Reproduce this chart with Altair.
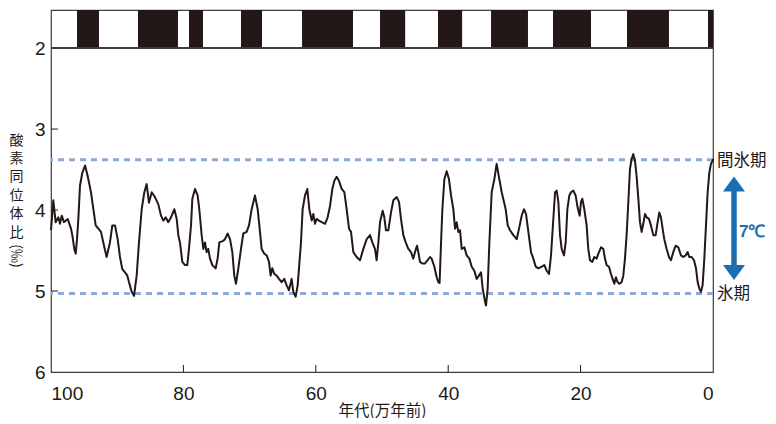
import altair as alt
import pandas as pd

# ---- data ----
ages = [100.0, 99.65, 99.3, 98.9, 98.64, 98.38, 98.04, 97.48, 96.98, 96.78, 96.48, 96.27, 96.07, 95.87,
        95.62, 95.27, 94.86, 94.46, 93.96, 93.6, 93.25, 92.85, 92.45, 92.1, 91.6, 91.09, 90.74, 90.33,
        89.93, 89.58, 89.23, 88.82, 88.47, 88.22, 87.81, 87.46, 87.06, 86.71, 86.3, 85.9, 85.55, 85.2,
        84.79, 84.29, 83.79, 83.38, 83.04, 82.67, 82.28, 81.87, 81.37, 81.01, 80.77,
        80.52, 80.16, 79.76, 79.41, 79.16, 78.85, 78.65, 78.25, 77.85, 77.6, 77.24, 76.99, 76.74, 76.49,
        76.24, 75.98, 75.63, 75.13, 74.83, 74.57, 73.97, 73.72, 73.32, 72.96, 72.61, 72.31, 72.06, 71.7,
        71.3, 70.95, 70.45, 70.09, 69.69, 69.19, 68.78, 68.53, 68.18, 67.78, 67.42, 67.07, 66.82, 66.57,
        66.27, 65.91, 65.56, 65.16, 64.76, 64.4, 64.05, 63.65, 63.4, 63.04, 62.74, 62.54, 62.24, 61.99,
        61.63, 61.28, 60.98,
        60.62, 60.37, 60.12, 59.87, 59.52, 59.11, 58.61, 58.21, 57.85, 57.5, 57.2, 56.85, 56.5, 56.09,
        55.69, 55.34, 54.98, 54.68, 54.33, 53.83, 53.32, 52.82, 52.31, 51.81, 51.46, 51.06, 50.81, 50.55,
        50.3, 49.9, 49.65, 49.4, 49.04, 48.64, 48.29, 47.78, 47.43, 47.13, 46.78, 46.42, 46.02, 45.62,
        45.27, 45.02, 44.71, 44.51, 44.26, 43.91, 43.5, 43.1, 42.75, 42.5, 42.09, 41.74, 41.49,
        41.3, 41.08, 40.88, 40.58, 40.23, 39.88, 39.57, 39.22, 38.97, 38.72, 38.47, 38.21, 37.96, 37.56,
        37.21, 36.8, 36.45, 36.05, 35.7, 35.35, 35.04, 34.79, 34.44, 34.29, 34.04, 33.78, 33.43, 33.03,
        32.68, 32.32, 31.92, 31.57, 31.32, 31.01, 30.66, 30.16, 29.65, 29.3, 28.9, 28.55, 28.24, 27.89,
        27.49, 27.14, 26.78, 26.38, 25.88, 25.47, 25.12, 24.77, 24.47, 24.12, 23.86, 23.61, 23.36, 23.11,
        22.86, 22.51, 22.25, 22.0, 21.7,
        21.45, 21.1, 20.75, 20.45, 20.14, 19.94, 19.74, 19.44, 19.09, 18.84, 18.58, 18.23, 17.93, 17.58,
        17.33, 16.92, 16.57, 16.32, 16.07, 15.71, 15.41, 15.16, 14.91, 14.66, 14.41, 14.15, 13.8, 13.55,
        13.3, 13.05, 12.79, 12.54, 12.29, 12.04, 11.79, 11.54, 11.28, 11.03, 10.78, 10.53, 10.28, 10.02,
        9.67, 9.37, 9.02, 8.66, 8.36, 8.11, 7.86, 7.61, 7.36, 7.0, 6.65, 6.35, 6.0, 5.64, 5.24, 4.84,
        4.49, 4.13, 3.83, 3.58, 3.23, 2.87, 2.57, 2.32, 2.07, 1.82, 1.57, 1.31, 1.06, 0.81, 0.56, 0.31,
        0.05, 0.0]

d18o = [4.25, 3.88, 4.15, 4.09, 4.17, 4.07, 4.15, 4.11, 4.23, 4.31, 4.48, 4.54, 4.36, 4.11,
        3.70, 3.54, 3.45, 3.58, 3.78, 3.99, 4.19, 4.23, 4.27, 4.40, 4.58, 4.40, 4.19, 4.19,
        4.36, 4.58, 4.73, 4.77, 4.81, 4.89, 5.01, 5.06, 4.81, 4.40, 3.99, 3.78, 3.68, 3.91,
        3.78, 3.84, 3.93, 4.07, 4.13, 4.09, 4.15, 4.09, 3.99, 4.11, 4.31,
        4.40, 4.64, 4.68, 4.68, 4.48, 4.19, 3.86, 3.74, 3.82, 3.99, 4.31, 4.48, 4.40, 4.52,
        4.48, 4.60, 4.68, 4.72, 4.60, 4.40, 4.38, 4.36, 4.29, 4.36, 4.52, 4.81, 4.91, 4.72,
        4.48, 4.29, 4.27, 4.19, 3.99, 3.82, 3.99, 4.19, 4.48, 4.54, 4.56, 4.64, 4.81, 4.72,
        4.79, 4.81, 4.85, 4.89, 4.85, 4.93, 4.99, 4.85, 5.01, 5.07, 4.93, 4.72, 4.40, 3.99,
        3.82, 3.74, 3.99,
        4.13, 4.05, 4.17, 4.11, 4.13, 4.15, 4.17, 4.09, 3.95, 3.74, 3.64, 3.59, 3.64, 3.74,
        3.78, 3.99, 4.23, 4.27, 4.52, 4.58, 4.62, 4.48, 4.36, 4.31, 4.40, 4.48, 4.62, 4.40,
        4.15, 4.01, 4.09, 4.25, 4.25, 4.03, 3.88, 3.84, 3.90, 4.11, 4.31, 4.40, 4.48, 4.52,
        4.60, 4.52, 4.44, 4.52, 4.64, 4.66, 4.66, 4.62, 4.58, 4.60, 4.70, 4.83, 4.89,
        4.90, 4.40, 3.99, 3.62, 3.52, 3.62, 3.82, 3.99, 4.23, 4.15, 4.27, 4.25, 4.48, 4.46,
        4.56, 4.60, 4.70, 4.75, 4.85, 4.81, 4.77, 4.97, 5.13, 5.18, 4.97, 4.40, 3.78, 3.62,
        3.43, 3.60, 3.78, 3.90, 3.99, 4.19, 4.25, 4.31, 4.36, 4.23, 4.07, 3.99, 4.05, 4.27,
        4.52, 4.60, 4.70, 4.72, 4.70, 4.68, 4.75, 4.79, 4.56, 4.11, 3.78, 3.76, 3.90, 4.31,
        4.48, 4.56, 4.40, 3.99, 3.82,
        3.78, 3.76, 3.82, 3.97, 4.07, 3.90, 3.86, 3.99, 4.19, 4.48, 4.62, 4.64, 4.58, 4.60,
        4.54, 4.46, 4.48, 4.60, 4.68, 4.70, 4.79, 4.85, 4.91, 4.83, 4.89, 4.91, 4.89, 4.81,
        4.60, 4.31, 3.90, 3.49, 3.37, 3.31, 3.39, 3.58, 3.86, 4.15, 4.27, 4.17, 4.05, 4.09,
        4.11, 4.19, 4.31, 4.31, 4.15, 4.03, 4.09, 4.23, 4.36, 4.48, 4.58, 4.62, 4.52, 4.44, 4.46, 4.56,
        4.58, 4.56, 4.52, 4.58, 4.58, 4.62, 4.72, 4.89, 4.97, 5.01, 4.93, 4.60, 4.19, 3.78, 3.54, 3.43,
        3.39, 3.37]

# black segments of the top band (start, end in 10^4 years ago)
band_start = [96.07, 86.86, 79.15, 71.3, 62.08, 50.3, 41.54, 33.53, 24.17, 12.99, 0.76]
band_end = [92.75, 80.82, 77.04, 68.13, 54.38, 46.5, 37.9, 27.95, 18.43, 6.65, 0.0]

level_values = [3.38, 5.03]
level_labels = ["間氷期", "氷期"]

x_ticks = [100, 80, 60, 40, 20, 0]
y_ticks = [2, 3, 4, 5, 6]
x_inner_ticks = [80, 60, 40, 20]
y_inner_ticks = [3, 4, 5]

Y_TOP = 1.53
Y_BAND = 2.0

W, H = 662, 362
INK = "#231815"
BLUE_DOT = "#8eaad6"
BLUE = "#1a6eb2"

curve = pd.DataFrame({"age": ages, "d18o": d18o})
band = pd.DataFrame({"start": band_start, "end": band_end})
levels = pd.DataFrame({"v": level_values, "label": level_labels})
xt = pd.DataFrame({"t": x_inner_ticks})
yt = pd.DataFrame({"v": y_inner_ticks})

xscale = alt.Scale(domain=[0, 100], reverse=True, nice=False, zero=False)
yscale = alt.Scale(domain=[Y_TOP, 6], reverse=True, nice=False, zero=False)

xaxis = alt.Axis(values=x_ticks, title="年代(万年前)", labelPadding=12,
                 titleY=38, titleBaseline="middle", titleFontSize=15.5, format="d")
yaxis = alt.Axis(values=y_ticks, title=["酸", "素", "同", "位", "体", "比"],
                 labelPadding=6, titleAngle=0, titleX=-35, titleY=130, titleAlign="center",
                 titleBaseline="middle", titleFontSize=14, titleLineHeight=18.4, format="d")

def X(field, **kw):
    return alt.X(field, type="quantitative", scale=xscale, axis=xaxis, **kw)

def Y(field, **kw):
    return alt.Y(field, type="quantitative", scale=yscale, axis=yaxis, **kw)

band_layer = alt.Chart(band).mark_rect(color=INK).encode(
    x=X("start"), x2="end",
    y=alt.Y(datum=Y_TOP, scale=yscale, axis=yaxis), y2=alt.Y2(datum=Y_BAND),
)

band_line = alt.Chart(band).mark_rule(color="#3c3c3c", strokeWidth=1.2).encode(
    y=alt.Y(datum=Y_BAND, scale=yscale, axis=yaxis),
)

level_rules = alt.Chart(levels).mark_rule(color=BLUE_DOT, strokeWidth=3, strokeDash=[6, 5]).encode(
    y=Y("v"),
)

line = alt.Chart(curve).mark_line(color=INK, strokeWidth=2, strokeJoin="round").encode(
    x=X("age"), y=Y("d18o"), order=alt.Order("age", sort="descending"),
)

xtick_layer = alt.Chart(xt).mark_rule(color=INK, strokeWidth=1).encode(
    x=X("t"), y=alt.value(H), y2=alt.value(H - 7),
)
ytick_layer = alt.Chart(yt).mark_rule(color=INK, strokeWidth=1).encode(
    y=Y("v"), x=alt.value(0), x2=alt.value(7),
)

level_text = alt.Chart(levels).mark_text(
    align="left", baseline="middle", font="Noto Sans CJK JP", fontSize=16.5, color=INK, dy=1
).encode(y=Y("v"), x=alt.value(666), text="label:N")

note_df = pd.DataFrame({"k": [0]})
unit_text = alt.Chart(note_df).mark_text(
    align="center", baseline="middle", font="Noto Sans CJK JP", fontSize=14, color=INK,
    angle=90, text="(‰)"
).encode(x=alt.value(-35), y=alt.value(246))

shaft = alt.Chart(note_df).mark_rule(color=BLUE, strokeWidth=5.5).encode(
    x=alt.value(683), y=alt.value(176), y2=alt.value(261),
)
head_up = alt.Chart(note_df).mark_point(
    shape="M0,-0.68L1,0.68L-1,0.68Z", filled=True, opacity=1, color=BLUE, size=484, strokeWidth=0
).encode(x=alt.value(683), y=alt.value(174))
head_down = alt.Chart(note_df).mark_point(
    shape="M0,0.68L1,-0.68L-1,-0.68Z", filled=True, opacity=1, color=BLUE, size=484, strokeWidth=0
).encode(x=alt.value(683), y=alt.value(262.5))
temp_text = alt.Chart(note_df).mark_text(
    align="left", baseline="middle", font="Liberation Sans", fontSize=17, fontWeight="bold",
    color=BLUE, text="7℃"
).encode(x=alt.value(688), y=alt.value(222))

chart = alt.layer(
    band_layer, band_line, level_rules, line, xtick_layer, ytick_layer,
    level_text, unit_text, shaft, head_up, head_down, temp_text,
).properties(
    width=W, height=H,
    autosize=alt.AutoSizeParams(type="none"),
    padding={"left": 43, "top": 2, "right": 55, "bottom": 46},
).configure_view(
    stroke="#3c3c3c", strokeWidth=1.2,
).configure_axis(
    domain=False, ticks=False, grid=False,
    labelFont="Liberation Sans", labelFontSize=19, labelColor=INK,
    titleFont="Noto Sans CJK JP", titleColor=INK, titleFontWeight="normal",
)

chart.save("out.html", embed_options={"renderer": "svg", "actions": False})
